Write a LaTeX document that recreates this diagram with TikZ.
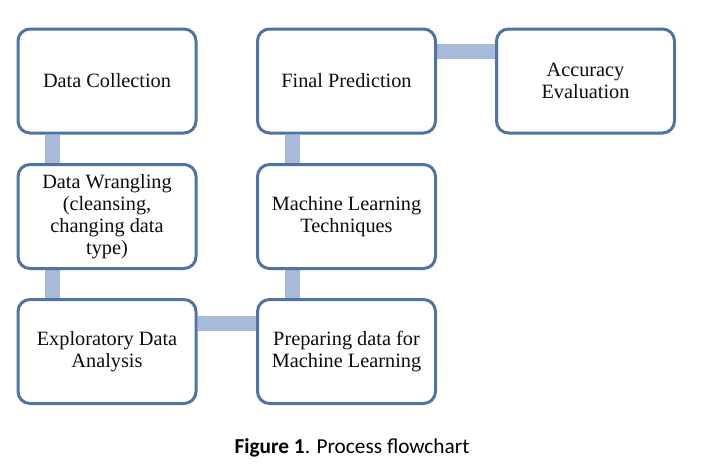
\documentclass[tikz,border=0pt]{standalone}
\usepackage{fontspec}
\setmainfont{Liberation Serif}
\newfontfamily\capfont{Carlito}
\usetikzlibrary{calc,backgrounds}
\definecolor{boxline}{RGB}{79,115,165}
\definecolor{barcol}{RGB}{168,186,217}
\begin{document}
\begin{tikzpicture}[x=1pt,y=-1pt,
  stepbox/.style={draw=boxline, line width=3pt, fill=white, rounded corners=12pt,
    minimum width=178pt, minimum height=104pt, align=center, inner sep=0pt,
    font=\fontsize{20.3}{22}\selectfont, text=black!95},
  bar/.style={draw=barcol, line width=15pt}]
\useasboundingbox (0,0) rectangle (711,469);
\node[stepbox] (dc) at (107,81) {Data Collection};
\node[stepbox] (dw) at (107,216.5) {Data Wrangling\\(cleansing,\\changing data\\type)};
\node[stepbox] (eda) at (107,351.5) {Exploratory Data\\Analysis};
\node[stepbox] (prep) at (346.5,351.5) {Preparing data for\\Machine Learning};
\node[stepbox] (ml) at (346.5,216.5) {Machine Learning\\Techniques};
\node[stepbox] (fp) at (346.5,81) {Final Prediction};
\node[stepbox] (acc) at (585.5,81) {Accuracy\\Evaluation};
\begin{pgfonlayer}{background}
\draw[bar] ($(dc.south west)+(36,0)$) -- ($(dw.north west)+(36,0)$);
\draw[bar] ($(dw.south west)+(36,0)$) -- ($(eda.north west)+(36,0)$);
\draw[bar] ($(eda.north east)+(0,25)$) -- ($(prep.north west)+(0,25)$);
\draw[bar] ($(prep.north west)+(36,0)$) -- ($(ml.south west)+(36,0)$);
\draw[bar] ($(ml.north west)+(36,0)$) -- ($(fp.south west)+(36,0)$);
\draw[bar] ($(fp.north east)+(0,24)$) -- ($(acc.north west)+(0,24)$);
\end{pgfonlayer}
\node[font=\capfont\fontsize{21.3}{24}\selectfont, anchor=base] (cap) at (352,453)
  {\textbf{Figure 1}. Process flowchart};
\end{tikzpicture}
\end{document}
